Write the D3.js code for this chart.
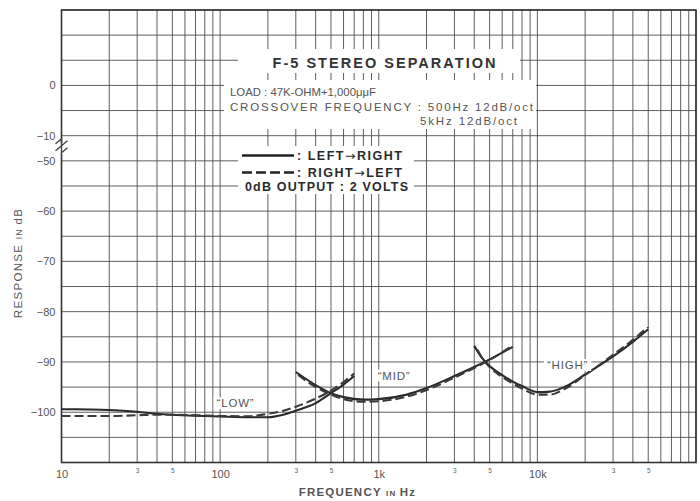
<!DOCTYPE html>
<html><head><meta charset="utf-8">
<script src="https://cdn.jsdelivr.net/npm/d3@7"></script>
<style>
body{margin:0;background:#fff}
svg{display:block}
text{font-family:"Liberation Sans",Arial,Helvetica,sans-serif}
</style>
</head><body>
<svg id="chart" width="700" height="501"></svg>
<script>
// ---------- data ----------
const yTickValues = [0, -10, -50, -60, -70, -80, -90, -100];
const yTickLabels = ["0", "\u221210", "\u221250", "\u221260", "\u221270", "\u221280", "\u221290", "\u2212100"];
const yGridValues = [15, 10, 5, 0, -5, -10, -50, -55, -60, -65, -70, -75, -80, -85, -90, -95, -100, -105, -110];
const xMajorTicks = [10, 100, 1000, 10000];
const xMajorLabels = ["10", "100", "1k", "10k"];
const xMinorTicks = [30, 50, 300, 500, 3000, 5000, 30000, 50000];
const xMinorLabels = ["3", "5", "3", "5", "3", "5", "3", "5"];
const xGridMultipliers = [1, 2, 3, 4, 5, 6, 7, 8, 9];
const xGridDecades = [10, 100, 1000, 10000];

// LOW band
const lowFreq_LR = [10, 15, 20, 30, 40, 50, 70, 100, 150, 200, 250, 300, 400, 500, 600, 700];
const lowDb_LR   = [-99.4, -99.45, -99.55, -99.9, -100.3, -100.5, -100.7, -100.85, -101.0, -101.0, -100.5, -99.7, -98.2, -96.2, -94.5, -92.8];
const lowFreq_RL = [10, 15, 20, 30, 40, 50, 70, 100, 150, 200, 250, 300, 400, 500, 600, 700];
const lowDb_RL   = [-100.75, -100.75, -100.75, -100.6, -100.5, -100.5, -100.6, -100.75, -100.8, -100.3, -99.7, -98.9, -97.3, -95.7, -94.0, -92.3];
// MID band
const midFreq_LR = [300, 400, 500, 600, 800, 1000, 1500, 2000, 3000, 4000, 5000, 7000];
const midDb_LR   = [-92.0, -94.6, -96.2, -97.0, -97.5, -97.4, -96.5, -95.2, -92.8, -91.0, -89.5, -87.0];
const midFreq_RL = [310, 400, 500, 600, 800, 1000, 1500, 2000, 3000, 4000, 5000, 7000];
const midDb_RL   = [-92.6, -95.0, -96.5, -97.4, -97.9, -97.8, -96.9, -95.6, -93.1, -91.2, -89.6, -86.7];
// HIGH band
const highFreq_LR = [4000, 4500, 5000, 6000, 7000, 8000, 10000, 12000, 15000, 20000, 30000, 40000, 50000];
const highDb_LR   = [-86.8, -89.3, -90.8, -92.6, -93.9, -94.8, -96.0, -95.9, -94.9, -92.5, -88.9, -86.0, -83.5];
const highFreq_RL = [4200, 4500, 5000, 6000, 7000, 8000, 10000, 12000, 15000, 20000, 30000, 40000, 50000];
const highDb_RL   = [-87.6, -89.3, -91.0, -93.0, -94.3, -95.3, -96.5, -96.5, -95.3, -92.6, -88.6, -85.6, -83.0];

const bandLabels = ["\u201CLOW\u201D", "\u201CMID\u201D", "\u201CHIGH\u201D"];
const bandLabelFreq = [125, 1250, 15500];
const bandLabelDb = [-98.4, -92.9, -90.8];

const titleText = "F-5 STEREO SEPARATION";
const noteLines = ["LOAD : 47K-OHM+1,000\u03BC\u03BCF", "CROSSOVER FREQUENCY : 500Hz  12dB/oct", "5kHz  12dB/oct"];
const legendParts = [[": LEFT", "\u2192", "RIGHT"], [": RIGHT", "\u2192", "LEFT"]];
const legendNote = "0dB OUTPUT : 2 VOLTS";

// ---------- layout ----------
const L = 61.5, R = 696, T = 10, B = 462.5;
const cell = (B - T) / 18;
const svg = d3.select("#chart");

const x = d3.scaleLog().domain([10, 100000]).range([L, R]);
const y = d3.scaleLinear()
  .domain([-110, -50, -10, 15])
  .range([B, B - 12 * cell, B - 13 * cell, T]);

const gridColor = "#4d4d4d";
// vertical grid
const xGrid = [];
xGridDecades.forEach(d => xGridMultipliers.forEach(m => xGrid.push(d * m)));
xGrid.push(100000);
svg.append("g").selectAll("line").data(xGrid).join("line")
  .attr("x1", d => x(d)).attr("x2", d => x(d))
  .attr("y1", T).attr("y2", B)
  .attr("stroke", gridColor).attr("stroke-width", 0.9);
// horizontal grid
svg.append("g").selectAll("line").data(yGridValues).join("line")
  .attr("x1", L).attr("x2", R)
  .attr("y1", d => y(d)).attr("y2", d => y(d))
  .attr("stroke", gridColor).attr("stroke-width", 0.9);

// frame
svg.append("rect").attr("x", L).attr("y", T).attr("width", R - L).attr("height", B - T)
  .attr("fill", "none").attr("stroke", "#333").attr("stroke-width", 1.6);

// white patches behind annotations
const patches = [
  [238, 49, 282, 24],   // title
  [224, 80, 312, 49],   // load block
  [238, 146, 176, 48]   // legend
];
svg.append("g").selectAll("rect").data(patches).join("rect")
  .attr("x", d => d[0]).attr("y", d => d[1]).attr("width", d => d[2]).attr("height", d => d[3])
  .attr("fill", "#fff");

// axis break on left spine
const bx = L, by = (y(-10) + y(-50)) / 2;
svg.append("rect").attr("x", bx - 5).attr("y", by - 5).attr("width", 10).attr("height", 10).attr("fill", "#fff");
[-3.5, 3.5].forEach(o => {
  svg.append("path")
    .attr("d", `M${bx - 6},${by + o - 1} L${bx},${by + o - 6} L${bx},${by + o + 1} L${bx + 6},${by + o - 4}`)
    .attr("fill", "none").attr("stroke", "#444").attr("stroke-width", 1.4);
});

const FF = '"Liberation Sans",Arial,sans-serif';
// y axis labels
const yAxis = d3.axisLeft(y).tickValues(yTickValues)
  .tickFormat((d, i) => yTickLabels[i]).tickSize(0).tickPadding(6);
const gy = svg.append("g").attr("transform", `translate(${L},0)`).call(yAxis);
gy.select(".domain").remove();
gy.selectAll("text").attr("font-size", 11).attr("fill", "#555").style("font-family", FF);

// x axis labels
const xAxis = d3.axisBottom(x).tickValues(xMajorTicks)
  .tickFormat((d, i) => xMajorLabels[i]).tickSize(0).tickPadding(8);
const gx = svg.append("g").attr("transform", `translate(0,${B})`).call(xAxis);
gx.select(".domain").remove();
gx.selectAll("text").attr("font-size", 11).attr("fill", "#555").style("font-family", FF);

const xAxisMinor = d3.axisBottom(x).tickValues(xMinorTicks)
  .tickFormat((d, i) => xMinorLabels[i]).tickSize(0).tickPadding(6);
const gxm = svg.append("g").attr("transform", `translate(0,${B})`).call(xAxisMinor);
gxm.select(".domain").remove();
gxm.selectAll("text").attr("font-size", 6.5).attr("fill", "#666").style("font-family", FF);

// axis titles
const xt = svg.append("text").attr("x", 357.5).attr("y", 496).attr("text-anchor", "middle")
  .attr("fill", "#555").attr("font-size", 11.5).attr("font-weight", "bold").attr("letter-spacing", 1.2);
xt.append("tspan").text("FREQUENCY ");
xt.append("tspan").attr("font-size", 8).text("IN ");
xt.append("tspan").text("Hz");

const yt = svg.append("text").attr("transform", "translate(22,263) rotate(-90)").attr("text-anchor", "middle")
  .attr("fill", "#555").attr("font-size", 11.5).attr("letter-spacing", 1.3);
yt.append("tspan").text("RESPONSE ");
yt.append("tspan").attr("font-size", 8.5).text("IN ");
yt.append("tspan").text("dB");

// curves
const line = d3.line().x(d => x(d[0])).y(d => y(d[1])).curve(d3.curveMonotoneX);
const series = [
  [lowFreq_LR, lowDb_LR, false], [lowFreq_RL, lowDb_RL, true],
  [midFreq_LR, midDb_LR, false], [midFreq_RL, midDb_RL, true],
  [highFreq_LR, highDb_LR, false], [highFreq_RL, highDb_RL, true]
];
series.forEach(([f, v, dashed]) => {
  svg.append("path").datum(f.map((fr, i) => [fr, v[i]]))
    .attr("d", line).attr("fill", "none")
    .attr("stroke", dashed ? "#3a3a3a" : "#2a2a2a")
    .attr("stroke-width", 2.1)
    .attr("stroke-dasharray", dashed ? "9,4" : null);
});

// band labels with white background
bandLabels.forEach((t, i) => {
  const g = svg.append("g");
  const tx = g.append("text").attr("x", x(bandLabelFreq[i])).attr("y", y(bandLabelDb[i]))
    .attr("text-anchor", "middle").attr("dominant-baseline", "middle")
    .attr("font-size", 11.5).attr("fill", "#555").attr("letter-spacing", 0.8).text(t);
  const bb = tx.node().getBBox();
  g.insert("rect", "text").attr("x", bb.x - 3).attr("y", bb.y).attr("width", bb.width + 6).attr("height", bb.height)
    .attr("fill", "#fff");
});

// title
svg.append("text").attr("x", 272.5).attr("y", 67.5).attr("font-size", 14.5).attr("font-weight", "bold")
  .attr("fill", "#333").attr("textLength", 223).attr("lengthAdjust", "spacing").text(titleText);

// notes
const noteSize = 11.5;
svg.append("text").attr("x", 230).attr("y", 96).attr("font-size", noteSize).attr("fill", "#555")
  .attr("textLength", 146).attr("lengthAdjust", "spacingAndGlyphs").text(noteLines[0]);
svg.append("text").attr("x", 230).attr("y", 111).attr("font-size", noteSize).attr("fill", "#555")
  .attr("textLength", 303).attr("lengthAdjust", "spacing").text(noteLines[1]);
svg.append("text").attr("x", 420).attr("y", 125).attr("font-size", noteSize).attr("fill", "#555")
  .attr("textLength", 97).attr("lengthAdjust", "spacing").text(noteLines[2]);

// legend
const legY = [155.5, 172.5];
svg.append("line").attr("x1", 242).attr("x2", 294).attr("y1", legY[0]).attr("y2", legY[0])
  .attr("stroke", "#222").attr("stroke-width", 2.4);
svg.append("line").attr("x1", 242).attr("x2", 294).attr("y1", legY[1]).attr("y2", legY[1])
  .attr("stroke", "#222").attr("stroke-width", 2.4).attr("stroke-dasharray", "10,4");
legendParts.forEach((p, i) => {
  const t = svg.append("text").attr("x", 297).attr("y", legY[i] + 4.8).attr("font-size", 12.5).attr("font-weight", "bold")
    .attr("fill", "#2a2a2a").attr("textLength", 105).attr("lengthAdjust", "spacing");
  t.append("tspan").text(p[0]);
  t.append("tspan").style("font-family", '"DejaVu Sans",sans-serif').attr("font-weight", "normal").text(p[1]);
  t.append("tspan").text(p[2]);
});
svg.append("text").attr("x", 245).attr("y", 191).attr("font-size", 12.5).attr("font-weight", "bold")
  .attr("fill", "#2a2a2a").attr("textLength", 163).attr("lengthAdjust", "spacing").text(legendNote);
</script>
</body></html>
